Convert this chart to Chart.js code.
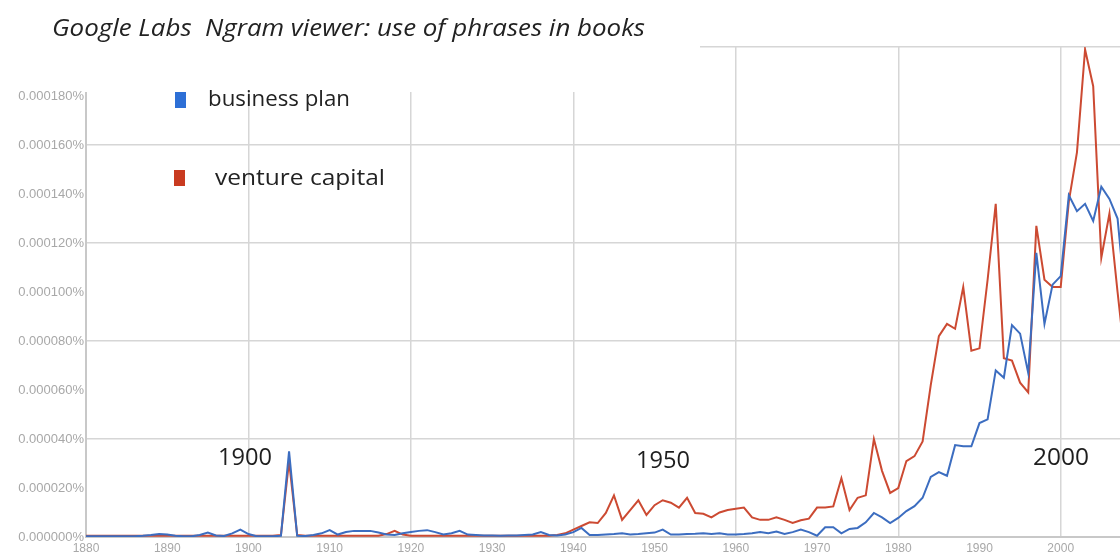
<!DOCTYPE html>
<html>
<head>
<meta charset="utf-8">
<script src="https://cdn.jsdelivr.net/npm/chart.js@4"></script>
<style>
  html, body { margin: 0; padding: 0; background: #ffffff; }
  #wrap { position: relative; width: 1120px; height: 556px; }
</style>
</head>
<body>
<div id="wrap"><canvas id="c" width="1120" height="556"></canvas></div>
<script>
// ---------------- DATA ----------------
const titleText = "Google Labs  Ngram viewer: use of phrases in books";
const seriesNames = ["business plan", "venture capital"];
const annotations = ["1900", "1950", "2000"];

const years = [
  1880,1881,1882,1883,1884,1885,1886,1887,1888,1889,
  1890,1891,1892,1893,1894,1895,1896,1897,1898,1899,
  1900,1901,1902,1903,1904,1905,1906,1907,1908,1909,
  1910,1911,1912,1913,1914,1915,1916,1917,1918,1919,
  1920,1921,1922,1923,1924,1925,1926,1927,1928,1929,
  1930,1931,1932,1933,1934,1935,1936,1937,1938,1939,
  1940,1941,1942,1943,1944,1945,1946,1947,1948,1949,
  1950,1951,1952,1953,1954,1955,1956,1957,1958,1959,
  1960,1961,1962,1963,1964,1965,1966,1967,1968,1969,
  1970,1971,1972,1973,1974,1975,1976,1977,1978,1979,
  1980,1981,1982,1983,1984,1985,1986,1987,1988,1989,
  1990,1991,1992,1993,1994,1995,1996,1997,1998,1999,
  2000,2001,2002,2003,2004,2005,2006,2007,2008
];

// percent of all bigrams
const businessPlan = [
  0.0000003,0.0000003,0.0000003,0.0000003,0.0000003,0.0000003,0.0000003,0.0000005,0.0000008,0.0000012,
  0.0000010,0.0000005,0.0000003,0.0000003,0.0000008,0.0000018,0.0000006,0.0000004,0.0000015,0.0000030,
  0.0000012,0.0000003,0.0000003,0.0000003,0.0000005,0.0000350,0.0000005,0.0000004,0.0000008,0.0000015,
  0.0000028,0.0000010,0.0000020,0.0000025,0.0000025,0.0000025,0.0000018,0.0000010,0.0000008,0.0000015,
  0.0000020,0.0000025,0.0000028,0.0000020,0.0000010,0.0000015,0.0000025,0.0000010,0.0000008,0.0000006,
  0.0000006,0.0000005,0.0000006,0.0000006,0.0000008,0.0000010,0.0000020,0.0000008,0.0000006,0.0000010,
  0.0000020,0.0000037,0.0000008,0.0000008,0.0000010,0.0000012,0.0000015,0.0000010,0.0000012,0.0000015,
  0.0000018,0.0000030,0.0000010,0.0000010,0.0000012,0.0000013,0.0000015,0.0000012,0.0000015,0.0000010,
  0.0000010,0.0000012,0.0000015,0.0000020,0.0000015,0.0000022,0.0000012,0.0000020,0.0000030,0.0000020,
  0.0000005,0.0000040,0.0000040,0.0000015,0.0000033,0.0000037,0.0000060,0.0000098,0.0000080,0.0000057,
  0.0000078,0.0000106,0.0000126,0.0000160,0.0000245,0.0000265,0.0000250,0.0000375,0.0000370,0.0000370,
  0.0000465,0.0000480,0.0000680,0.0000650,0.0000865,0.0000830,0.0000670,0.0001160,0.0000870,0.0001030,
  0.0001065,0.0001395,0.0001330,0.0001360,0.0001290,0.0001430,0.0001380,0.0001300,0.0000950
];

const ventureCapital = [
  0.0000005,0.0000005,0.0000005,0.0000005,0.0000005,0.0000005,0.0000005,0.0000005,0.0000005,0.0000005,
  0.0000005,0.0000005,0.0000005,0.0000005,0.0000005,0.0000005,0.0000005,0.0000005,0.0000005,0.0000005,
  0.0000005,0.0000005,0.0000005,0.0000005,0.0000008,0.0000310,0.0000008,0.0000005,0.0000005,0.0000005,
  0.0000005,0.0000005,0.0000005,0.0000005,0.0000005,0.0000005,0.0000005,0.0000012,0.0000025,0.0000010,
  0.0000005,0.0000005,0.0000005,0.0000005,0.0000005,0.0000005,0.0000005,0.0000005,0.0000005,0.0000005,
  0.0000005,0.0000005,0.0000005,0.0000005,0.0000005,0.0000005,0.0000005,0.0000005,0.0000008,0.0000015,
  0.0000030,0.0000045,0.0000060,0.0000057,0.0000098,0.0000170,0.0000070,0.0000110,0.0000150,0.0000090,
  0.0000130,0.0000150,0.0000140,0.0000120,0.0000160,0.0000098,0.0000095,0.0000080,0.0000100,0.0000110,
  0.0000115,0.0000120,0.0000080,0.0000070,0.0000070,0.0000080,0.0000070,0.0000057,0.0000068,0.0000075,
  0.0000120,0.0000120,0.0000125,0.0000240,0.0000110,0.0000160,0.0000170,0.0000400,0.0000270,0.0000180,
  0.0000200,0.0000310,0.0000330,0.0000390,0.0000620,0.0000820,0.0000870,0.0000850,0.0001020,0.0000760,
  0.0000770,0.0001050,0.0001360,0.0000730,0.0000720,0.0000630,0.0000590,0.0001270,0.0001050,0.0001020,
  0.0001020,0.0001370,0.0001570,0.0001990,0.0001840,0.0001140,0.0001320,0.0001000,0.0000700
];

const xTickYears = [1880,1890,1900,1910,1920,1930,1940,1950,1960,1970,1980,1990,2000];
const yTickValues = [0,0.00002,0.00004,0.00006,0.00008,0.0001,0.00012,0.00014,0.00016,0.00018,0.0002];

// ---------------- STYLE ----------------
const lineColors = ["#3c6dc0", "#cc4a32"];
const swatchColors = ["#2d6fd6", "#c93b20"];
const gridColor = "#d6d6d6";
const axisColor = "#c8c8c8";
const tickColor = "#a8a8a8";

const toPoints = vals => years.map((y, i) => ({ x: y, y: vals[i] }));

// draw text scaled horizontally to a target width (the reference is a widened screenshot)
function fitText(ctx, text, x, y, targetWidth) {
  const w = ctx.measureText(text).width;
  const sx = targetWidth / w;
  ctx.save();
  ctx.translate(x, y);
  ctx.scale(sx, 1);
  ctx.fillText(text, 0, 0);
  ctx.restore();
}

const overlayPlugin = {
  id: "overlay",
  afterDraw(chart) {
    const ctx = chart.ctx;
    ctx.save();
    // white title strip covering upper-left part of the plot
    ctx.fillStyle = "#ffffff";
    ctx.fillRect(84.5, 0, 700 - 84.5, 92);

    // title
    ctx.fillStyle = "#222222";
    ctx.textBaseline = "middle";
    ctx.textAlign = "left";
    ctx.font = "italic 23px 'Open Sans'";
    fitText(ctx, titleText, 52, 29, 593);

    // legend
    const ds = chart.data.datasets;
    const legendRows = [
      { sx: 175, sy: 92, tx: 208, ty: 100, w: 142 },
      { sx: 174, sy: 170, tx: 215, ty: 179, w: 170 }
    ];
    ctx.font = "21px 'Open Sans'";
    ds.forEach((d, i) => {
      const r = legendRows[i];
      ctx.fillStyle = swatchColors[i];
      ctx.fillRect(r.sx, r.sy, 11, 16);
      ctx.fillStyle = "#222222";
      fitText(ctx, d.label, r.tx, r.ty, r.w);
    });

    // decade annotations
    ctx.font = "23px 'Open Sans'";
    ctx.fillStyle = "#1e1e1e";
    const annPos = [ [218, 458, 54], [636, 461, 54], [1033, 458, 56] ];
    annotations.forEach((t, i) => fitText(ctx, t, annPos[i][0], annPos[i][1], annPos[i][2]));
    ctx.restore();
  }
};

new Chart(document.getElementById("c"), {
  type: "line",
  data: {
    datasets: [
      { label: seriesNames[0], data: toPoints(businessPlan), borderColor: lineColors[0], borderWidth: 2, pointRadius: 0, tension: 0 },
      { label: seriesNames[1], data: toPoints(ventureCapital), borderColor: lineColors[1], borderWidth: 2, pointRadius: 0, tension: 0 }
    ]
  },
  options: {
    responsive: false,
    animation: false,
    devicePixelRatio: 1,
    layout: { padding: { top: 47, right: 0, left: 0, bottom: 0 } },
    plugins: { legend: { display: false }, tooltip: { enabled: false }, title: { display: false } },
    scales: {
      x: {
        type: "linear",
        min: 1880,
        max: 2007.3,
        afterBuildTicks: s => { s.ticks = xTickYears.map(v => ({ value: v })); },
        afterFit: s => { s.height = 19; },
        grid: {
          drawTicks: false,
          lineWidth: 1.5,
          color: c => (c.tick && c.tick.value % 20 === 0 && c.tick.value > 1880) ? gridColor : "rgba(0,0,0,0)"
        },
        border: { color: axisColor, width: 2 },
        ticks: {
          autoSkip: false, maxRotation: 0, padding: 4,
          color: tickColor,
          font: { family: "'Liberation Sans'", size: 12 },
          callback: v => String(v)
        }
      },
      y: {
        min: 0,
        max: 0.0002,
        afterBuildTicks: s => { s.ticks = yTickValues.map(v => ({ value: v })); },
        afterFit: s => { s.width = 86; },
        grid: {
          drawTicks: false,
          lineWidth: 1.5,
          color: c => {
            if (!c.tick) return "rgba(0,0,0,0)";
            const k = Math.round(c.tick.value / 0.00002);
            return (k > 0 && k % 2 === 0) ? gridColor : "rgba(0,0,0,0)";
          }
        },
        border: { color: axisColor, width: 2 },
        ticks: {
          padding: 2,
          color: tickColor,
          font: { family: "'Liberation Sans'", size: 13 },
          callback: v => (Math.abs(v - 0.0002) < 1e-9) ? "" : v.toFixed(6) + "%"
        }
      }
    }
  },
  plugins: [overlayPlugin]
});
</script>
</body>
</html>
